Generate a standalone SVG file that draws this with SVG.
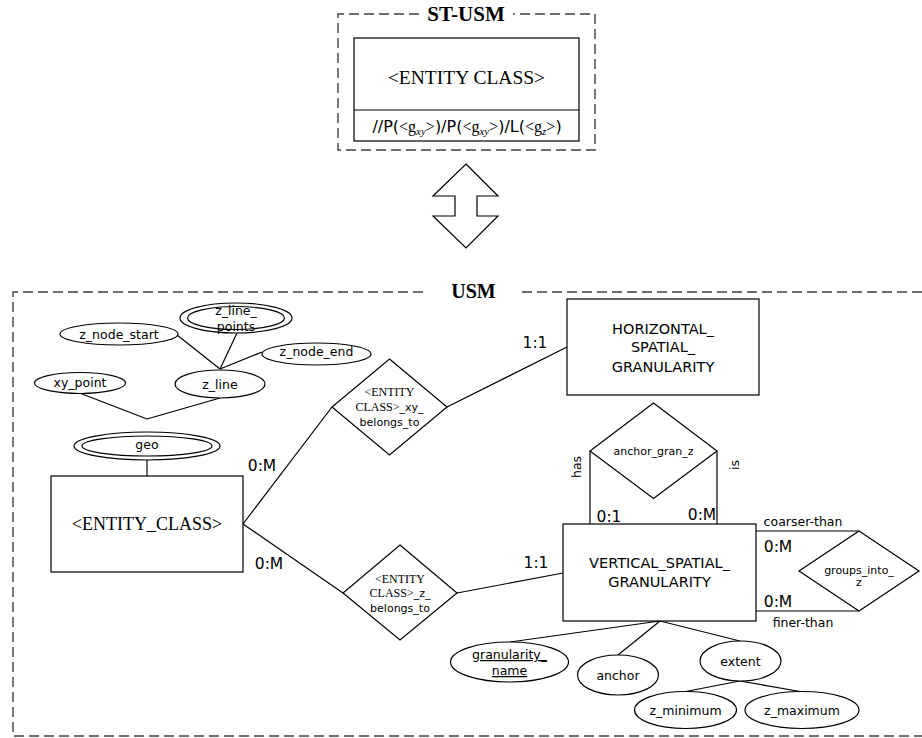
<svg xmlns="http://www.w3.org/2000/svg" width="922" height="738" viewBox="0 0 922 738">
<style>
.ln{stroke:#000;stroke-width:1.2;fill:none}
.sh{fill:#fff;stroke:#000;stroke-width:1.2}
.dash{fill:none;stroke:#404040;stroke-width:1.4;stroke-dasharray:10 5}
.s{font-family:"DejaVu Sans",sans-serif;fill:#000}
.t{font-family:"Liberation Serif",serif;fill:#000}
.c{text-anchor:middle}
.ent{font-size:14.5px}
.att{font-size:12.5px}
.rel{font-size:11px}
.card{font-size:15.5px}
.ttl{font-family:"Liberation Serif",serif;font-weight:bold;text-anchor:middle}
</style>
<rect width="922" height="738" fill="#fff"/>

<g id="st-usm-frame">
<path class="dash" d="M419 14 H338 V150 H595 V14 H513"/>
<text class="ttl" x="466" y="21" font-size="21">ST-USM</text>
</g>
<g id="st-usm-entity">
<rect class="sh" x="354" y="38" width="225" height="103"/>
<line class="ln" x1="354" y1="110" x2="579" y2="110"/>
<text class="t c" x="466.5" y="84" font-size="19.5">&lt;ENTITY CLASS&gt;</text>
<text class="c" x="467" y="131.5" font-size="16"><tspan class="s">//P(</tspan><tspan class="t">&lt;g</tspan><tspan class="t" font-style="italic" font-size="11" dy="3">xy</tspan><tspan class="t" dy="-3">&gt;</tspan><tspan class="s">)/P(</tspan><tspan class="t">&lt;g</tspan><tspan class="t" font-style="italic" font-size="11" dy="3">xy</tspan><tspan class="t" dy="-3">&gt;</tspan><tspan class="s">)/L(</tspan><tspan class="t">&lt;g</tspan><tspan class="t" font-style="italic" font-size="11" dy="3">z</tspan><tspan class="t" dy="-3">&gt;</tspan><tspan class="s">)</tspan></text>
</g>
<g id="double-arrow">
<polygon class="sh" points="466,164 498,196 477,196 477,216 498,216 466,248 433,216 455,216 455,196 433,196"/>
</g>

<g id="usm-frame">
<path class="dash" d="M423 292 H13 V736 H930"/>
<path class="dash" d="M522 292 H930"/>
<text class="ttl" x="473.5" y="298" font-size="20">USM</text>
</g>

<g id="connectors">
<line class="ln" x1="177" y1="335" x2="220" y2="369"/>
<line class="ln" x1="237" y1="333" x2="220" y2="369"/>
<line class="ln" x1="262" y1="352" x2="220" y2="369"/>
<line class="ln" x1="77" y1="392" x2="147" y2="419"/>
<line class="ln" x1="220" y1="398" x2="147" y2="419"/>
<line class="ln" x1="147" y1="460" x2="147" y2="476"/>
<line class="ln" x1="243" y1="524" x2="332" y2="407"/>
<line class="ln" x1="447" y1="407" x2="567" y2="347"/>
<line class="ln" x1="243" y1="524" x2="343" y2="593"/>
<line class="ln" x1="457" y1="593" x2="563" y2="573"/>
<line class="ln" x1="590" y1="451" x2="590" y2="524"/>
<line class="ln" x1="717" y1="451" x2="717" y2="524"/>
<line class="ln" x1="756" y1="531" x2="859" y2="531"/>
<line class="ln" x1="756" y1="611" x2="859" y2="611"/>
<line class="ln" x1="660" y1="621" x2="510" y2="642"/>
<line class="ln" x1="660" y1="621" x2="618" y2="655"/>
<line class="ln" x1="660" y1="621" x2="740" y2="641"/>
<line class="ln" x1="740" y1="681" x2="683" y2="692"/>
<line class="ln" x1="740" y1="681" x2="803" y2="692"/>
<text class="s card c" x="262" y="471">0:M</text>
<text class="s card c" x="269" y="569">0:M</text>
<text class="s card c" x="535" y="347.5">1:1</text>
<text class="s card c" x="536" y="568">1:1</text>
<text class="s card c" x="609" y="522">0:1</text>
<text class="s card c" x="702" y="520">0:M</text>
<text class="s card c" x="778" y="551.5">0:M</text>
<text class="s card c" x="778" y="606.5">0:M</text>
<text class="s att c" x="803" y="525.5">coarser-than</text>
<text class="s att c" x="803" y="626.5">finer-than</text>
<text class="s att c" transform="translate(580.5,467) rotate(-90)">has</text>
<text class="s att c" transform="translate(739,465) rotate(-90)">is</text>
</g>

<g id="z_node_start">
<ellipse class="sh" cx="119" cy="334" rx="59" ry="11"/>
<text class="s att c" x="119" y="339">z_node_start</text>
</g>
<g id="z_line_points">
<ellipse class="sh" cx="236" cy="318" rx="56" ry="15"/>
<ellipse class="sh" cx="236" cy="318" rx="48.5" ry="11.5"/>
<text class="s att c" x="236" y="315">z_line_</text>
<text class="s att c" x="236" y="331">points</text>
</g>
<g id="z_node_end">
<ellipse class="sh" cx="316.5" cy="354" rx="54.5" ry="11"/>
<text class="s att c" x="316.5" y="356">z_node_end</text>
</g>
<g id="xy_point">
<ellipse class="sh" cx="80" cy="383" rx="45.5" ry="10.5"/>
<text class="s att c" x="80" y="387">xy_point</text>
</g>
<g id="z_line">
<ellipse class="sh" cx="220" cy="384" rx="45" ry="14"/>
<text class="s att c" x="220" y="389">z_line</text>
</g>
<g id="geo">
<ellipse class="sh" cx="147" cy="446" rx="73" ry="14"/>
<ellipse class="sh" cx="147" cy="446" rx="65" ry="10"/>
<text class="s att c" x="147" y="449">geo</text>
</g>
<g id="entity_class">
<rect class="sh" x="51" y="476" width="192" height="96"/>
<text class="t c" x="147" y="529.5" font-size="18">&lt;ENTITY_CLASS&gt;</text>
</g>
<g id="xy_belongs_to">
<polygon class="sh" points="389.5,359 447,407 389.5,455 332,407"/>
<text class="t c" x="389.5" y="396" font-size="12" fill="#333">&lt;ENTITY</text>
<text class="c" x="389.5" y="411"><tspan class="t" font-size="12" fill="#333">CLASS&gt;</tspan><tspan class="s" font-size="11">_xy_</tspan></text>
<text class="s rel c" x="389.5" y="426">belongs_to</text>
</g>
<g id="horizontal_spatial_granularity">
<rect class="sh" x="567" y="299" width="192" height="96"/>
<text class="s ent c" x="663" y="333.5">HORIZONTAL_</text>
<text class="s ent c" x="663" y="352">SPATIAL_</text>
<text class="s ent c" x="663" y="372">GRANULARITY</text>
</g>
<g id="anchor_gran_z">
<polygon class="sh" points="653.5,403 717,451 653.5,498.5 590,451"/>
<text class="s rel c" x="653.5" y="455">anchor_gran_z</text>
</g>
<g id="z_belongs_to">
<polygon class="sh" points="400,545 457,593 400,640 343,593"/>
<text class="t c" x="400" y="582.5" font-size="12" fill="#333">&lt;ENTITY</text>
<text class="c" x="400" y="597"><tspan class="t" font-size="12" fill="#333">CLASS&gt;</tspan><tspan class="s" font-size="11">_z_</tspan></text>
<text class="s rel c" x="400" y="611.5">belongs_to</text>
</g>
<g id="vertical_spatial_granularity">
<rect class="sh" x="563" y="524" width="193" height="97"/>
<text class="s ent c" x="659.5" y="568">VERTICAL_SPATIAL_</text>
<text class="s ent c" x="659.5" y="587">GRANULARITY</text>
</g>
<g id="groups_into_z">
<polygon class="sh" points="859,531 919,571 859,611 799,571"/>
<text class="s rel c" x="859" y="574">groups_into_</text>
<text class="s rel c" x="859" y="586">z</text>
</g>
<g id="granularity_name">
<ellipse class="sh" cx="509.5" cy="662" rx="59" ry="20"/>
<text class="s att c" x="509.5" y="659" text-decoration="underline">granularity_</text>
<text class="s att c" x="509.5" y="675" text-decoration="underline">name</text>
</g>
<g id="anchor">
<ellipse class="sh" cx="618" cy="675" rx="40.5" ry="20"/>
<text class="s att c" x="618" y="679.5">anchor</text>
</g>
<g id="extent">
<ellipse class="sh" cx="740.5" cy="661" rx="40.5" ry="20"/>
<text class="s att c" x="740.5" y="665.5">extent</text>
</g>
<g id="z_minimum">
<ellipse class="sh" cx="685.5" cy="710" rx="51" ry="18.5"/>
<text class="s att c" x="685.5" y="715">z_minimum</text>
</g>
<g id="z_maximum">
<ellipse class="sh" cx="802" cy="710" rx="57" ry="18.5"/>
<text class="s att c" x="802" y="715">z_maximum</text>
</g>
</svg>
